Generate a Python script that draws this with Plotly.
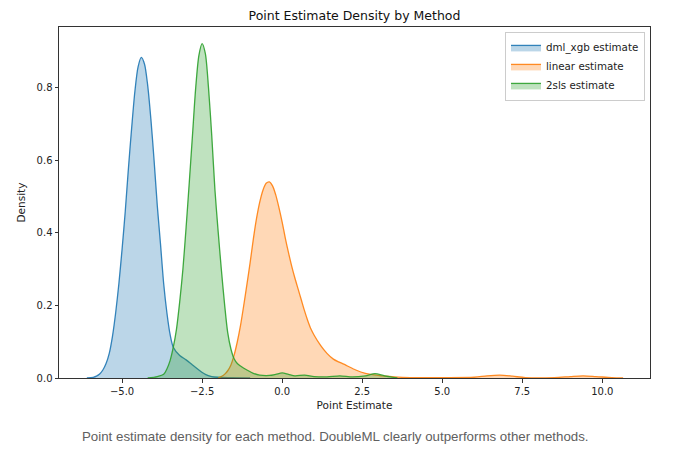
import plotly.graph_objects as go

# ---- data (KDE curves) ----
dml_x = [-6.1, -5.9, -5.8, -5.7, -5.6, -5.5, -5.4, -5.3, -5.2, -5.1, -5.0, -4.9, -4.8,
         -4.7, -4.6, -4.5, -4.4, -4.3, -4.2, -4.1, -4.0, -3.9, -3.8, -3.7, -3.6,
         -3.5, -3.4, -3.2, -3.0, -2.8, -2.6, -2.4, -2.2, -2.0, -1.6, -1.0]
dml_y = [0.000, 0.002, 0.005, 0.011, 0.022, 0.040, 0.068, 0.115, 0.180, 0.260, 0.355, 0.460, 0.580,
         0.690, 0.790, 0.858, 0.884, 0.866, 0.807, 0.714, 0.600, 0.475, 0.370, 0.260, 0.180,
         0.120, 0.085, 0.062, 0.050, 0.036, 0.022, 0.010, 0.004, 0.002, 0.001, 0.000]

lin_x = [-2.0, -1.9, -1.8, -1.7, -1.6, -1.5, -1.4, -1.3, -1.2, -1.1, -1.0, -0.9, -0.8,
         -0.7, -0.6, -0.5, -0.4, -0.3, -0.2, -0.1, 0.0, 0.1, 0.2, 0.3, 0.4, 0.5, 0.6,
         0.7, 0.8, 0.9, 1.0, 1.2, 1.4, 1.6, 1.8, 2.0, 2.3, 2.6, 3.0, 3.5, 4.0, 5.0,
         6.0, 6.4, 6.8, 7.2, 7.6, 8.5, 9.0, 9.4, 9.8, 10.3, 10.65]
lin_y = [0.000, 0.004, 0.010, 0.020, 0.036, 0.063, 0.100, 0.145, 0.200, 0.258, 0.318, 0.383, 0.440,
         0.485, 0.518, 0.537, 0.541, 0.530, 0.505, 0.470, 0.430, 0.385, 0.345, 0.308, 0.275, 0.245, 0.215,
         0.185, 0.158, 0.135, 0.118, 0.090, 0.068, 0.052, 0.043, 0.035, 0.022, 0.013, 0.007, 0.003, 0.001, 0.001,
         0.002, 0.006, 0.008, 0.005, 0.001, 0.001, 0.004, 0.006, 0.004, 0.001, 0.000]

tsls_x = [-4.2, -3.9, -3.7, -3.6, -3.5, -3.4, -3.3, -3.2, -3.1, -3.0, -2.9, -2.8, -2.7,
          -2.6, -2.5, -2.4, -2.3, -2.2, -2.1, -2.0, -1.9, -1.8, -1.7, -1.6, -1.5,
          -1.4, -1.3, -1.1, -0.9, -0.7, -0.4, -0.2, 0.0, 0.2, 0.4, 0.7, 1.0, 1.4,
          1.8, 2.2, 2.6, 2.9, 3.2, 3.6]
tsls_y = [0.000, 0.004, 0.010, 0.025, 0.048, 0.085, 0.135, 0.210, 0.300, 0.415, 0.540, 0.670, 0.800,
          0.890, 0.922, 0.895, 0.800, 0.670, 0.520, 0.405, 0.300, 0.205, 0.125, 0.080, 0.053,
          0.040, 0.033, 0.022, 0.013, 0.008, 0.007, 0.010, 0.014, 0.010, 0.006, 0.008, 0.004, 0.003,
          0.006, 0.003, 0.006, 0.012, 0.006, 0.000]

series_names = ["dml_xgb estimate", "linear estimate", "2sls estimate"]
x_ticks = [-5.0, -2.5, 0.0, 2.5, 5.0, 7.5, 10.0]
x_tick_text = ["\u22125.0", "\u22122.5", "0.0", "2.5", "5.0", "7.5", "10.0"]
y_ticks = [0.0, 0.2, 0.4, 0.6, 0.8]
y_tick_text = ["0.0", "0.2", "0.4", "0.6", "0.8"]

line_colors = ["rgba(31,119,180,0.9)", "rgba(255,127,14,0.9)", "rgba(44,160,44,0.9)"]
fill_colors = ["rgba(31,119,180,0.3)", "rgba(255,127,14,0.3)", "rgba(44,160,44,0.3)"]

fig = go.Figure()
for xs, ys, name, lc, fc in zip([dml_x, lin_x, tsls_x], [dml_y, lin_y, tsls_y],
                                series_names, line_colors, fill_colors):
    fig.add_trace(go.Scatter(
        x=xs, y=ys, name=name, mode="lines",
        line=dict(color=lc, width=1.3, shape="spline", smoothing=0.8),
        fill="tozeroy", fillcolor=fc,
    ))

font_family = "DejaVu Sans"
fig.update_layout(
    width=680, height=451,
    margin=dict(l=59, r=30, t=27, b=73),
    paper_bgcolor="white", plot_bgcolor="white",
    font=dict(family=font_family, size=10, color="#222"),
    title=dict(text="Point Estimate Density by Method", x=0.5, xref="paper",
               y=1 - 15.7 / 451, yanchor="middle",
               font=dict(family=font_family, size=12.5, color="#111")),
    showlegend=True,
    legend=dict(x=0.9915, y=0.986, xanchor="right", yanchor="top",
                bgcolor="rgba(255,255,255,0.85)", bordercolor="#cccccc", borderwidth=1,
                font=dict(family=font_family, size=10.3, color="#222"),
                itemwidth=30, tracegroupgap=0),
    xaxis=dict(range=[-6.97, 11.49], tickvals=x_ticks, ticktext=x_tick_text,
               showgrid=False, zeroline=False, showline=True, linecolor="#333",
               linewidth=1, mirror=True, ticks="outside", ticklen=3.5, tickcolor="#333",
               title=dict(text="Point Estimate", standoff=6,
                          font=dict(family=font_family, size=10.5, color="#222"))),
    yaxis=dict(range=[0, 0.968], tickvals=y_ticks, ticktext=y_tick_text,
               showgrid=False, zeroline=False, showline=True, linecolor="#333",
               linewidth=1, mirror=True, ticks="outside", ticklen=3.5, tickcolor="#333",
               title=dict(text="Density", standoff=8,
                          font=dict(family=font_family, size=10.5, color="#222"))),
)

fig.add_annotation(
    text="Point estimate density for each method. DoubleML clearly outperforms other methods.",
    xref="paper", yref="paper", x=(335 - 59) / 591, y=(378 - 436.7) / 351, xanchor="center",
    yanchor="middle", showarrow=False,
    font=dict(family="Liberation Sans", size=13.3, color="#606060"),
)

fig.write_html("out.html", config={"displayModeBar": False},
               post_script="document.body.style.margin='0';document.body.style.overflow='hidden';")
